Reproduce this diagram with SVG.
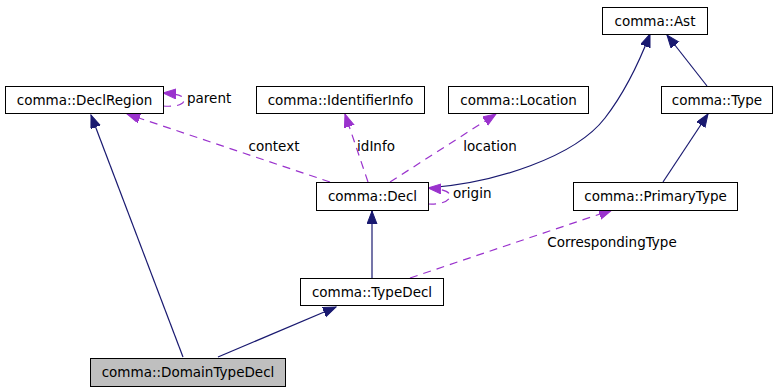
<svg xmlns="http://www.w3.org/2000/svg" width="779" height="392" viewBox="0 0 779 392">
<style>
.box{fill:#ffffff;stroke:#000000;stroke-width:1}
.cur{fill:#bfbfbf;stroke:#000000;stroke-width:1}
text{font-family:"DejaVu Sans","Liberation Sans",sans-serif;font-size:13.5px;fill:#000000}
.nt{text-anchor:middle}
.inh{fill:none;stroke:#191970;stroke-width:1.2}
.use{fill:none;stroke:#9a32cd;stroke-width:1.2;stroke-dasharray:8,6}
</style>
<defs>
<marker id="an" markerUnits="userSpaceOnUse" markerWidth="14" markerHeight="11" refX="13" refY="5" orient="auto">
<path d="M0,0 L13,5 L0,10 z" fill="#191970" stroke="#191970" stroke-width="1"/>
</marker>
<marker id="ap" markerUnits="userSpaceOnUse" markerWidth="14" markerHeight="11" refX="13" refY="5" orient="auto">
<path d="M0,0 L13,5 L0,10 z" fill="#9a32cd" stroke="#9a32cd" stroke-width="1"/>
</marker>
</defs>
<rect width="779" height="392" fill="#ffffff"/>
<g id="connectors">
<path class="inh" d="M183,357 L91,115" marker-end="url(#an)"/>
<path class="inh" d="M218,357 L336,307" marker-end="url(#an)"/>
<path class="inh" d="M372,278 L372,211" marker-end="url(#an)"/>
<path class="inh" d="M428,188 C495,183 575,157 605,118 C622,96 637.5,66.5 650,34" marker-end="url(#an)"/>
<path class="inh" d="M707,86 L667,35" marker-end="url(#an)"/>
<path class="inh" d="M663,182 L708,114" marker-end="url(#an)"/>
<path class="use" d="M330,182 L127,114" marker-end="url(#ap)"/>
<path class="use" d="M368,182 L345,114" marker-end="url(#ap)"/>
<path class="use" d="M390,182 L496,114" marker-end="url(#ap)"/>
<path class="use" d="M410,278 L612,210" marker-end="url(#ap)"/>
<path class="use" d="M163,106 C175,107 184,105 184,100 C184,96 178,94 163,93" marker-end="url(#ap)"/>
<path class="use" d="M428,204 C440,205 450,201 450,196 C450,192 444,189 428,188" marker-end="url(#ap)"/>
<text x="274" y="151" class="nt">context</text>
<text x="376" y="151" class="nt">idInfo</text>
<text x="490" y="151" class="nt">location</text>
<text x="187" y="103">parent</text>
<text x="453" y="198">origin</text>
<text x="612" y="247" class="nt">CorrespondingType</text>
</g>
<g id="node-ast"><rect class="box" x="602.5" y="7.5" width="105" height="27"/><text x="655" y="26" class="nt">comma::Ast</text></g>
<g id="node-declregion"><rect class="box" x="5.5" y="86.5" width="158" height="27"/><text x="84.5" y="105" class="nt">comma::DeclRegion</text></g>
<g id="node-identifierinfo"><rect class="box" x="256.5" y="86.5" width="168" height="27"/><text x="340.5" y="105" class="nt">comma::IdentifierInfo</text></g>
<g id="node-location"><rect class="box" x="448.5" y="86.5" width="140" height="27"/><text x="518.5" y="105" class="nt">comma::Location</text></g>
<g id="node-type"><rect class="box" x="661.5" y="86.5" width="111" height="27"/><text x="717" y="105" class="nt">comma::Type</text></g>
<g id="node-decl"><rect class="box" x="316.5" y="182.5" width="112" height="28"/><text x="372.5" y="201" class="nt">comma::Decl</text></g>
<g id="node-primarytype"><rect class="box" x="573.5" y="182.5" width="164" height="28"/><text x="655.5" y="201" class="nt">comma::PrimaryType</text></g>
<g id="node-typedecl"><rect class="box" x="300.5" y="278.5" width="143" height="27"/><text x="372" y="297" class="nt">comma::TypeDecl</text></g>
<g id="node-domaintypedecl"><rect class="cur" x="90.5" y="358.5" width="195" height="28"/><text x="188" y="377" class="nt">comma::DomainTypeDecl</text></g>
</svg>
